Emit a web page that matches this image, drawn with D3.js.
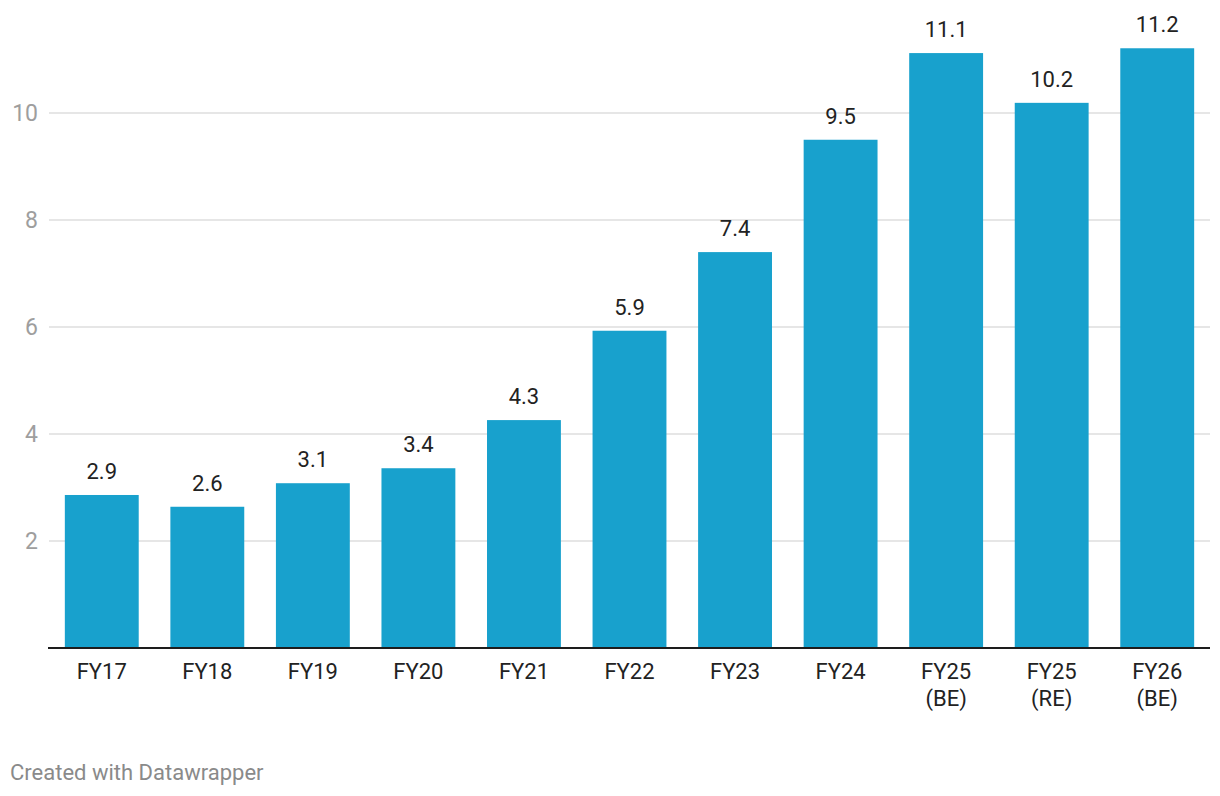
<!DOCTYPE html>
<html>
<head>
<meta charset="utf-8">
<script src="https://cdn.jsdelivr.net/npm/d3@7"></script>
<style>
  body { margin: 0; background: #fff; }
  svg { display: block; font-family: Roboto, "Noto Sans", sans-serif; }
</style>
</head>
<body>
<div id="chart"></div>
<script>
// values
var categories = ["FY17", "FY18", "FY19", "FY20", "FY21", "FY22", "FY23", "FY24", "FY25 (BE)", "FY25 (RE)", "FY26 (BE)"];
var values = [2.86, 2.64, 3.08, 3.36, 4.26, 5.93, 7.4, 9.5, 11.12, 10.19, 11.21];
var yTicks = [2, 4, 6, 8, 10];

var width = 1220, height = 796;

var svg = d3.select("#chart").append("svg")
    .attr("width", width)
    .attr("height", height);

var x = d3.scaleBand()
    .domain(categories)
    .range([49, 1210])
    .paddingInner(0.3)
    .paddingOuter(0.15);

var y = d3.scaleLinear()
    .domain([0, 10])
    .range([648, 113]);

// gridlines
var grid = svg.append("g");
grid.selectAll("line")
    .data(yTicks)
    .enter().append("line")
    .attr("x1", 49)
    .attr("x2", 1210)
    .attr("y1", function (d) { return y(d); })
    .attr("y2", function (d) { return y(d); })
    .style("stroke", "#e6e6e6")
    .style("stroke-width", 2);

grid.selectAll("text")
    .data(yTicks)
    .enter().append("text")
    .attr("x", 38)
    .attr("y", function (d) { return y(d); })
    .attr("dy", "0.36em")
    .attr("text-anchor", "end")
    .style("font-size", "23px")
    .style("fill", "#9e9e9e")
    .text(function (d) { return d; });

// bars
svg.append("g").selectAll("rect")
    .data(values)
    .enter().append("rect")
    .attr("x", function (d, i) { return x(categories[i]); })
    .attr("y", function (d) { return y(d); })
    .attr("width", x.bandwidth())
    .attr("height", function (d) { return y(0) - y(d); })
    .style("fill", "#18a1cd");

// value labels
svg.append("g").selectAll("text")
    .data(values)
    .enter().append("text")
    .attr("x", function (d, i) { return x(categories[i]) + x.bandwidth() / 2; })
    .attr("y", function (d) { return y(d) - 16; })
    .attr("text-anchor", "middle")
    .style("font-size", "22px")
    .style("fill", "#222")
    .text(function (d) { return d3.format(".1f")(d); });

// baseline
svg.append("line")
    .attr("x1", 48)
    .attr("x2", 1210)
    .attr("y1", y(0))
    .attr("y2", y(0))
    .style("stroke", "#1d1d1d")
    .style("stroke-width", 2);

// category labels, split on the space into two lines
var xl = svg.append("g").selectAll("text")
    .data(categories)
    .enter().append("text")
    .attr("x", function (d) { return x(d) + x.bandwidth() / 2; })
    .attr("y", 679)
    .attr("text-anchor", "middle")
    .style("font-size", "22px")
    .style("fill", "#222");

xl.each(function (d) {
    var t = d3.select(this);
    d.split(" ").forEach(function (part, i) {
        t.append("tspan")
            .attr("x", x(d) + x.bandwidth() / 2)
            .attr("dy", i === 0 ? 0 : 27)
            .text(part);
    });
});

svg.append("text")
    .attr("x", 10)
    .attr("y", 780)
    .style("font-size", "22px")
    .style("fill", "#8a8a8a")
    .text("Created with Datawrapper");
</script>
</body>
</html>
